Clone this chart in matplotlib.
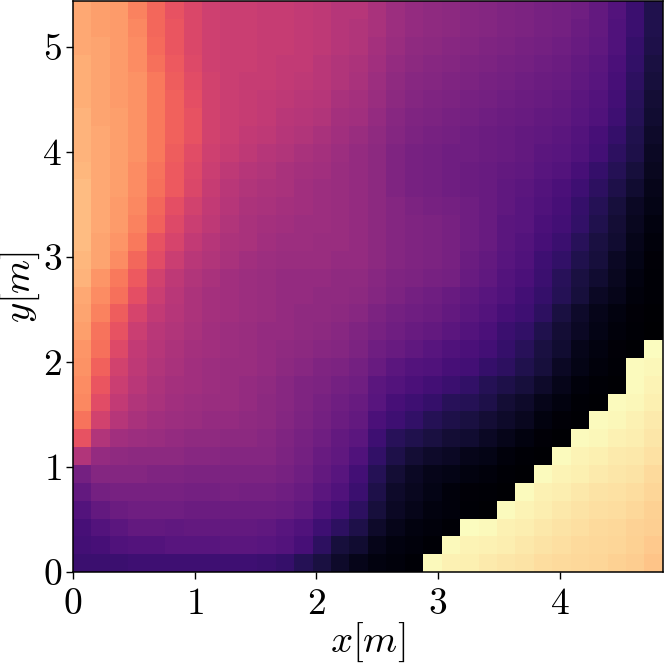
import numpy as np
import matplotlib
matplotlib.use('Agg')
import matplotlib.pyplot as plt

plt.rcParams['mathtext.fontset'] = 'cm'
plt.rcParams['font.family'] = 'cmr10'
plt.rcParams['axes.formatter.use_mathtext'] = True

# оценка по картинке, строки снизу вверх
field = [
    [.20,.20,.20,.21,.21,.21,.21,.21,.21,.21,.20,.19,.15,.12,.08,.05,.03,.02,.01,.99,.975,.97,.96,.95,.945,.93,.925,.92,.915,.905,.895,.875],
    [.22,.23,.25,.26,.26,.27,.27,.27,.28,.28,.27,.26,.23,.17,.11,.09,.05,.03,.02,.01,.99,.98,.975,.965,.955,.945,.935,.925,.92,.915,.905,.89],
    [.23,.26,.28,.30,.30,.29,.30,.30,.30,.30,.29,.27,.25,.21,.17,.13,.08,.05,.03,.02,.01,1.0,.99,.975,.965,.955,.945,.935,.925,.92,.91,.90],
    [.26,.30,.32,.33,.33,.33,.32,.32,.32,.32,.32,.31,.29,.25,.22,.17,.11,.07,.05,.03,.02,.01,.005,.995,.98,.965,.955,.945,.935,.93,.92,.905],
    [.30,.34,.35,.35,.35,.35,.34,.34,.35,.34,.34,.33,.31,.28,.25,.20,.13,.08,.06,.04,.02,.015,.01,.005,.995,.975,.965,.955,.945,.94,.93,.915],
    [.34,.38,.38,.38,.37,.37,.36,.36,.36,.36,.36,.35,.33,.30,.27,.22,.15,.10,.07,.05,.04,.03,.02,.01,.005,.995,.98,.97,.96,.95,.945,.925],
    [.49,.42,.41,.40,.40,.40,.39,.39,.38,.38,.38,.36,.34,.31,.29,.25,.18,.13,.10,.08,.07,.05,.04,.02,.01,.005,.995,.98,.97,.96,.955,.94],
    [.63,.49,.45,.44,.43,.42,.41,.41,.40,.40,.39,.37,.35,.33,.30,.28,.21,.16,.14,.12,.10,.09,.07,.05,.03,.015,.005,.995,.985,.975,.965,.95],
    [.71,.57,.50,.47,.45,.44,.43,.42,.42,.41,.40,.38,.36,.34,.32,.30,.24,.21,.18,.15,.13,.12,.10,.08,.06,.03,.015,.005,.995,.985,.975,.96],
    [.75,.61,.53,.49,.47,.45,.44,.43,.43,.42,.40,.39,.37,.35,.33,.31,.27,.23,.21,.19,.16,.15,.13,.10,.08,.05,.03,.01,.005,.995,.985,.97],
    [.76,.64,.55,.51,.48,.46,.45,.44,.43,.42,.41,.39,.37,.36,.34,.33,.28,.26,.24,.22,.20,.18,.15,.13,.11,.08,.05,.02,.01,.005,.995,.98],
    [.77,.67,.57,.52,.49,.47,.45,.44,.43,.43,.42,.40,.39,.37,.36,.34,.31,.28,.26,.25,.23,.22,.19,.17,.14,.11,.07,.04,.02,.01,.995,.985],
    [.78,.70,.60,.53,.50,.48,.46,.45,.44,.43,.42,.41,.40,.39,.38,.36,.33,.31,.29,.27,.25,.24,.22,.19,.16,.12,.09,.05,.03,.015,.005,1.0],
    [.80,.71,.63,.55,.51,.49,.47,.45,.44,.43,.42,.42,.41,.40,.39,.37,.35,.33,.31,.30,.28,.26,.24,.20,.18,.14,.10,.07,.04,.02,.01,.0],
    [.81,.74,.66,.58,.53,.50,.48,.46,.45,.44,.43,.42,.41,.41,.40,.39,.36,.34,.33,.32,.30,.28,.26,.23,.21,.17,.12,.08,.05,.03,.015,.005],
    [.82,.76,.70,.62,.55,.51,.48,.46,.45,.44,.43,.42,.42,.41,.41,.40,.38,.36,.34,.33,.31,.29,.27,.25,.22,.19,.15,.11,.07,.05,.02,.01],
    [.84,.78,.72,.65,.57,.52,.49,.47,.45,.44,.43,.42,.42,.42,.41,.41,.39,.37,.36,.35,.34,.31,.29,.26,.24,.20,.16,.12,.09,.06,.03,.01],
    [.85,.81,.76,.68,.61,.55,.51,.49,.47,.45,.44,.43,.43,.43,.42,.42,.40,.38,.37,.36,.35,.32,.30,.27,.25,.21,.18,.14,.11,.07,.04,.015],
    [.86,.81,.78,.72,.63,.58,.53,.50,.48,.47,.45,.44,.44,.43,.43,.42,.40,.38,.37,.36,.35,.33,.31,.28,.26,.23,.20,.16,.12,.09,.05,.02],
    [.86,.82,.79,.74,.67,.60,.55,.52,.49,.47,.46,.45,.44,.44,.43,.42,.40,.38,.37,.36,.35,.33,.31,.28,.27,.24,.22,.18,.14,.10,.06,.03],
    [.86,.82,.79,.75,.68,.62,.57,.53,.50,.48,.47,.46,.45,.44,.43,.42,.40,.38,.36,.35,.34,.33,.31,.29,.27,.25,.23,.19,.15,.11,.07,.04],
    [.86,.82,.80,.76,.70,.65,.59,.54,.51,.49,.48,.47,.45,.44,.43,.42,.40,.37,.35,.34,.33,.32,.31,.29,.28,.26,.24,.21,.17,.13,.09,.05],
    [.85,.82,.80,.76,.71,.65,.60,.55,.52,.50,.49,.47,.46,.45,.43,.42,.40,.37,.35,.34,.33,.32,.31,.30,.29,.27,.26,.23,.19,.15,.11,.06],
    [.84,.82,.80,.77,.72,.66,.61,.56,.54,.52,.50,.49,.47,.46,.44,.42,.40,.37,.35,.34,.33,.33,.32,.31,.30,.28,.27,.25,.22,.17,.13,.07],
    [.84,.82,.80,.77,.72,.67,.63,.57,.55,.53,.52,.50,.49,.47,.45,.43,.41,.38,.36,.35,.34,.33,.32,.31,.30,.29,.28,.26,.23,.19,.14,.08],
    [.84,.81,.80,.77,.72,.67,.63,.57,.55,.54,.53,.51,.50,.49,.46,.45,.42,.39,.37,.36,.35,.34,.33,.32,.31,.30,.29,.27,.25,.21,.15,.09],
    [.83,.81,.79,.77,.72,.67,.62,.57,.55,.54,.53,.52,.51,.50,.47,.46,.43,.40,.38,.37,.36,.35,.34,.33,.32,.31,.30,.28,.26,.22,.16,.10],
    [.83,.81,.79,.77,.72,.66,.61,.57,.55,.54,.54,.53,.52,.51,.49,.47,.44,.41,.39,.38,.37,.36,.35,.34,.33,.32,.31,.29,.27,.23,.17,.11],
    [.83,.81,.79,.76,.70,.65,.60,.56,.55,.55,.54,.53,.53,.51,.49,.48,.45,.42,.40,.39,.38,.37,.36,.35,.34,.33,.32,.30,.28,.24,.18,.12],
    [.82,.81,.79,.76,.69,.64,.59,.56,.55,.55,.54,.54,.53,.52,.50,.49,.46,.43,.41,.40,.39,.38,.37,.36,.35,.34,.33,.31,.29,.25,.19,.13],
    [.82,.80,.79,.75,.68,.64,.59,.56,.55,.55,.54,.54,.53,.52,.50,.49,.47,.44,.42,.41,.40,.39,.38,.37,.36,.35,.34,.32,.30,.25,.20,.14],
    [.82,.80,.79,.74,.68,.63,.59,.56,.55,.55,.54,.54,.53,.52,.50,.50,.47,.44,.42,.41,.40,.39,.38,.37,.36,.35,.34,.33,.30,.26,.20,.14],
]
x_max = 4.85
y_max = 5.44
x_ticks = [0, 1, 2, 3, 4]
y_ticks = [0, 1, 2, 3, 4, 5]

fig = plt.figure(figsize=(6.64, 6.64), dpi=100)
ax = fig.add_axes([73 / 664, 92 / 664, 590 / 664, 571 / 664])
ax.imshow(np.array(field), cmap='magma', vmin=0, vmax=1, origin='lower',
          extent=(0, x_max, 0, y_max), aspect='auto', interpolation='nearest')
ax.set_xticks(x_ticks)
ax.set_yticks(y_ticks)
ax.set_xticklabels(['$%d$' % t for t in x_ticks])
ax.set_yticklabels(['$%d$' % t for t in y_ticks])
ax.tick_params(labelsize=27, length=5, width=1, pad=3)
ax.tick_params(axis='x', pad=6)
ax.set_xlabel('$x[m]$', fontsize=28, labelpad=0)
ax.set_ylabel('$y[m]$', fontsize=28, labelpad=0)
for s in ax.spines.values():
    s.set_linewidth(1.1)

fig.savefig('out.png', dpi=100)
